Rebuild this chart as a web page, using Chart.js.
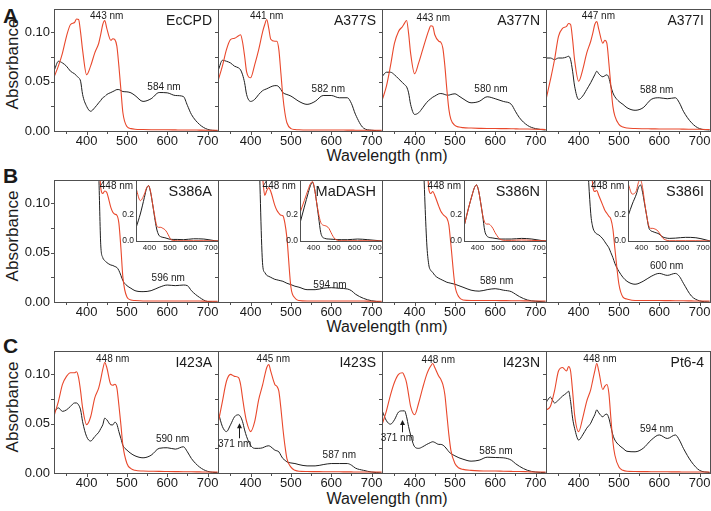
<!DOCTYPE html>
<html>
<head>
<meta charset="utf-8">
<script src="https://cdn.jsdelivr.net/npm/chart.js@4.4.1/dist/chart.umd.min.js"></script>
<style>
  html, body { margin: 0; padding: 0; background: #fff; }
  #wrap { position: relative; width: 711px; height: 511px; overflow: hidden; background: #fff;
          font-family: "Liberation Sans", Arial, Helvetica, sans-serif; color: #1a1a1a; }
  #wrap canvas { position: absolute; }
  .ytitle { position: absolute; width: 120px; height: 20px; line-height: 20px; text-align: center;
            font-size: 17px; transform: rotate(-90deg); white-space: nowrap; }
  .xtitle { position: absolute; width: 200px; height: 20px; line-height: 20px; text-align: center;
            font-size: 16px; white-space: nowrap; }
  .letter { position: absolute; font-weight: bold; font-size: 21px; line-height: 1; }
</style>
</head>
<body>
<div id="wrap">
  <div class="letter" style="left:3px;top:5px;">A</div>
  <div class="letter" style="left:3px;top:165px;">B</div>
  <div class="letter" style="left:3px;top:335px;">C</div>
  <div class="ytitle" style="left:-47px;top:54px;">Absorbance</div>
  <div class="ytitle" style="left:-47px;top:226px;">Absorbance</div>
  <div class="ytitle" style="left:-47px;top:397px;">Absorbance</div>
  <div class="xtitle" style="left:287px;top:146px;">Wavelength (nm)</div>
  <div class="xtitle" style="left:287px;top:317px;">Wavelength (nm)</div>
  <div class="xtitle" style="left:287px;top:489px;">Wavelength (nm)</div>
</div>
<script>
// ---------------- data ----------------
const wl = [320,330,340,350,360,370,375,380,385,390,
            400,410,420,430,435,440,445,450,460,465,
            470,475,480,485,490,500,510,520,540,560,
            580,600,620,640,650,660,680,700,725];
const xTicks = [400, 500, 600, 700];
const yTicks = [0, 0.05, 0.10];
const insetWl = [335,355,375,385,395,405,415,425,435,445,455,465,475,485,495,505,515,535,565,615,665,715,734];
const insetXTicks = [400, 500, 600, 700];
const insetYTicks = [0, 0.2];

// Row A
const ecRed = [.0556,.066,.079,.096,.108,.110,.1135,.113,.100,.082,
  .057,.066,.079,.089,.098,.108,.112,.104,.092,.0935,
  .0926,.086,.066,.042,.0185,.0045,.0024,.0018,.0015,.0013,
  .0012,.0012,.0011,.001,.001,.001,.0009,.0008,.0008];
const ecBlack = [.062,.0707,.069,.0657,.0606,.058,.056,.054,.0505,.037,
  .025,.020,.0236,.0286,.031,.0337,.035,.037,.039,.040,
  .041,.042,.042,.041,.040,.0397,.0387,.036,.030,.0327,
  .039,.0387,.036,.035,.026,.0168,.0067,.0017,.0003];
const a377sRed = [.052,.066,.0825,.0926,.094,.0966,.0976,.090,.076,.060,
  .054,.067,.0825,.101,.108,.113,.104,.093,.091,.091,
  .0825,.059,.035,.0185,.0084,.0024,.0015,.0012,.001,.001,
  .001,.001,.001,.0009,.0009,.0008,.0008,.0007,.0007];
const a377sBlack = [.062,.0717,.0707,.069,.0657,.064,.062,.057,.049,.037,
  .030,.032,.037,.041,.042,.0428,.0438,.0448,.046,.046,
  .0448,.042,.039,.0377,.037,.0354,.0327,.030,.027,.030,
  .036,.036,.0337,.0337,.028,.017,.003,.0008,0];
const a377nRed = [.032,.0455,.066,.089,.101,.106,.1094,.112,.099,.079,
  .058,.069,.0825,.096,.102,.1067,.106,.0976,.091,.090,
  .084,.066,.042,.022,.0118,.0057,.004,.0034,.003,.0027,
  .0025,.0025,.0024,.0023,.0022,.0021,.002,.0018,.0015];
const a377nBlack = [.0556,.0596,.0596,.057,.053,.049,.047,.0448,.0387,.027,
  .0168,.0185,.0236,.029,.031,.0327,.0343,.0354,.0377,.038,
  .0377,.037,.0364,.0364,.037,.0377,.0354,.0327,.0286,.030,
  .0347,.0327,.030,.027,.020,.0135,.0057,.0024,.001];
const a377iRed = [.0337,.052,.072,.096,.104,.106,.109,.108,.0926,.072,
  .0505,.062,.079,.091,.099,.108,.111,.103,.089,.092,
  .089,.069,.0455,.025,.015,.0067,.004,.003,.0025,.0023,
  .0022,.0021,.002,.002,.002,.0019,.0018,.0017,.0015];
const a377iBlack = [.074,.074,.0724,.074,.074,.075,.0758,.0724,.0606,.0455,
  .032,.0354,.042,.049,.053,.057,.0606,.058,.055,.056,
  .057,.054,.0455,.0387,.0347,.030,.027,.0236,.021,.0236,
  .032,.0337,.0327,.0337,.0286,.020,.0084,.0024,.001];

// Row B (values below ~430 nm are off-scale in the main panels)
const s386aRed = [.30,.30,.30,.31,.32,.35,.37,.38,.37,.35,
  .30,.25,.20,.15,.116,.110,.1125,.111,.096,.091,
  .089,.088,.080,.055,.025,.005,.002,.0015,.001,.001,
  .001,.001,.001,.001,.001,.001,.001,.0008,.0008];
const s386aBlack = [.30,.30,.30,.31,.32,.35,.37,.38,.37,.35,
  .30,.25,.20,.13,.058,.045,.042,.040,.0375,.037,
  .036,.035,.032,.027,.0216,.0166,.0139,.0115,.0105,.0115,
  .0149,.0172,.0166,.0172,.0166,.0115,.0047,.0005,0];
const madashRed = [.30,.30,.30,.31,.32,.35,.37,.38,.37,.35,
  .30,.25,.16,.125,.108,.113,.116,.112,.098,.093,
  .090,.088,.0875,.080,.065,.015,.004,.0015,.001,.001,
  .001,.001,.001,.001,.001,.001,.001,.0008,.0008];
const madashBlack = [.30,.30,.30,.31,.32,.35,.37,.38,.37,.35,
  .30,.25,.16,.037,.030,.027,.026,.025,.023,.0225,
  .022,.0215,.021,.020,.019,.0176,.016,.015,.0125,.0125,
  .0139,.0145,.0139,.0132,.0115,.008,.0037,.0013,0];
const s386nRed = [.30,.30,.30,.31,.32,.35,.37,.38,.37,.35,
  .30,.25,.20,.15,.115,.110,.112,.108,.097,.092,
  .089,.087,.085,.078,.058,.017,.005,.002,.0015,.0015,
  .0015,.0015,.0014,.0013,.0013,.0012,.0011,.001,.001];
const s386nBlack = [.30,.30,.30,.31,.32,.35,.37,.38,.37,.35,
  .30,.25,.16,.06,.038,.032,.030,.027,.024,.023,
  .022,.021,.020,.0195,.019,.018,.0165,.015,.012,.011,
  .0125,.0135,.012,.0105,.008,.0055,.002,.0008,0];
const s386iRed = [.30,.30,.30,.31,.32,.35,.37,.38,.37,.35,
  .30,.25,.20,.15,.118,.112,.113,.108,.098,.093,
  .090,.087,.084,.074,.054,.018,.005,.003,.0015,.0015,
  .0015,.0015,.0014,.0013,.0013,.0012,.0011,.001,.001];
const s386iBlack = [.30,.30,.30,.31,.32,.35,.37,.38,.37,.35,
  .30,.25,.16,.09,.076,.071,.069,.068,.064,.061,
  .058,.055,.050,.045,.039,.031,.025,.021,.018,.021,
  .026,.029,.027,.029,.026,.019,.006,.0012,0];

// Row B insets
const s386aInBlack = [.105,.207,.335,.40,.425,.374,.284,.18,.092,.046,.033,.028,.025,.02,.015,.013,.012,.012,.01,.017,.015,.003,0];
const s386aInRed = [.40,.31,.36,.405,.425,.38,.284,.195,.118,.105,.105,.097,.087,.066,.036,.01,.005,.002,.002,.002,.002,.001,.001];
const madashInBlack = [.143,.26,.374,.425,.45,.40,.297,.18,.066,.028,.02,.016,.015,.014,.013,.012,.011,.01,.01,.015,.01,.003,0];
const madashInRed = [.22,.31,.40,.44,.456,.40,.297,.207,.143,.123,.118,.112,.097,.066,.036,.015,.007,.002,.002,.002,.002,.001,.001];
const s386nInBlack = [.117,.246,.36,.41,.43,.387,.297,.195,.079,.04,.028,.025,.023,.02,.018,.015,.015,.015,.015,.02,.015,.003,0];
const s386nInRed = [.117,.246,.36,.41,.43,.387,.297,.2,.143,.13,.13,.118,.097,.066,.041,.02,.01,.005,.005,.008,.005,.002,.001];
const s386iInBlack = [.195,.284,.36,.41,.43,.374,.284,.195,.105,.079,.072,.066,.061,.054,.041,.03,.025,.02,.022,.028,.025,.008,0];
const s386iInRed = [.438,.36,.387,.45,.47,.41,.297,.195,.118,.097,.097,.092,.084,.066,.041,.02,.01,.002,.002,.002,.002,.001,.001];

// Row C
const i423aRed = [.059,.0727,.0898,.098,.1017,.1017,.1027,.0966,.083,.066,
  .049,.057,.076,.0863,.095,.105,.112,.107,.0898,.089,
  .090,.0863,.069,.049,.028,.0096,.0044,.0027,.002,.0018,
  .0016,.0015,.0014,.0013,.0012,.0012,.0011,.001,.001];
const i423aBlack = [.0625,.066,.0625,.064,.0676,.071,.071,.069,.064,.052,
  .0369,.0324,.0369,.0413,.045,.0488,.0556,.054,.0488,.0488,
  .0515,.0495,.042,.035,.028,.0232,.0198,.0174,.0154,.018,
  .025,.0256,.0242,.0266,.0215,.0147,.0061,.0017,.0003];
const i423sRed = [.052,.0727,.093,.100,.098,.0966,.0898,.076,.0625,.052,
  .042,.052,.0744,.0898,.099,.107,.110,.103,.0898,.088,
  .083,.066,.0454,.028,.0147,.006,.0027,.0017,.0015,.0014,
  .0013,.0012,.0012,.0011,.0011,.001,.001,.001,.001];
const i423sBlack = [.061,.047,.042,.0488,.057,.059,.057,.052,.0437,.0369,
  .028,.025,.025,.0256,.0265,.0273,.0276,.0266,.0232,.0225,
  .0215,.018,.0147,.013,.0113,.0102,.0096,.0085,.0072,.0072,
  .0085,.0096,.0096,.0096,.008,.005,.0027,.001,0];
const i423nRed = [.050,.063,.079,.092,.100,.1017,.098,.0915,.0795,.0676,
  .059,.071,.0863,.100,.105,.1085,.111,.107,.098,.095,
  .0898,.0795,.059,.0386,.023,.0096,.005,.0037,.0027,.0022,
  .002,.002,.0018,.0016,.0015,.0015,.0013,.001,.001];
const i423nBlack = [.0625,.053,.0495,.054,.0618,.063,.063,.057,.047,.0386,
  .0266,.025,.0266,.029,.030,.031,.0317,.031,.029,.029,
  .0283,.0266,.0242,.0215,.0198,.0174,.0154,.014,.012,.013,
  .016,.0157,.0154,.013,.0096,.0068,.0027,.001,.0003];
const pt64Red = [.064,.0676,.083,.1034,.107,.1034,.108,.1034,.083,.059,
  .042,.0556,.0727,.0846,.094,.1034,.111,.1034,.0846,.088,
  .0898,.081,.0556,.0317,.018,.006,.0027,.0017,.0015,.0014,
  .0013,.0012,.0012,.0011,.0011,.001,.001,.001,.001];
const pt64Black = [.072,.077,.071,.074,.078,.081,.083,.0727,.0556,.0454,
  .0334,.0386,.0454,.0505,.055,.059,.064,.061,.057,.059,
  .0597,.0556,.047,.0386,.0334,.0283,.025,.022,.0215,.025,
  .0334,.0386,.035,.0386,.0334,.025,.0113,.0027,.0005];

// ---------------- layout / style ----------------
const FONT = '"Liberation Sans", Arial, Helvetica, sans-serif';
const RED = 'rgb(233,72,44)', BLACK = '#1e1e1e', FRAME = '#505050', TXT = '#1a1a1a';
const X_MIN = 319, X_MAX = 726, Y_MAX = 0.1237;
const IN_XMIN = 334, IN_XMAX = 734, IN_YMAX = 0.468;
const ROW_TOP = [9, 180, 351];
const PH = 122, PL = 54, PW = 164, PADT = 14, IN_PADT = 8, IN_PADR = 12;

Chart.defaults.font.family = FONT;
Chart.defaults.color = TXT;

const rows = [
  { panels: [
    { name: 'EcCPD', red: ecRed, black: ecBlack, notes: [['443 nm', 449.8, 0.1159], ['584 nm', 592, 0.0443]] },
    { name: 'A377S', red: a377sRed, black: a377sBlack, notes: [['441 nm', 439.8, 0.1159], ['582 nm', 592.7, 0.0423]] },
    { name: 'A377N', red: a377nRed, black: a377nBlack, notes: [['443 nm', 446.3, 0.1143], ['580 nm', 589.5, 0.0423]] },
    { name: 'A377I', red: a377iRed, black: a377iBlack, notes: [['447 nm', 448.8, 0.1159], ['588 nm', 593.7, 0.0409]] }
  ]},
  { panels: [
    { name: 'S386A', red: s386aRed, black: s386aBlack, notes: [['448 nm', 474, 0.1169], ['596 nm', 602.6, 0.024]],
      inset: { red: s386aInRed, black: s386aInBlack } },
    { name: 'MaDASH', red: madashRed, black: madashBlack, notes: [['448 nm', 471, 0.1169], ['594 nm', 597, 0.0172]],
      inset: { red: madashInRed, black: madashInBlack } },
    { name: 'S386N', red: s386nRed, black: s386nBlack, notes: [['448 nm', 473.6, 0.1169], ['589 nm', 603.6, 0.0213]],
      inset: { red: s386nInRed, black: s386nInBlack } },
    { name: 'S386I', red: s386iRed, black: s386iBlack, notes: [['448 nm', 472, 0.1169], ['600 nm', 618.5, 0.0358]],
      inset: { red: s386iInRed, black: s386iInBlack } }
  ]},
  { panels: [
    { name: 'I423A', red: i423aRed, black: i423aBlack, notes: [['448 nm', 464.7, 0.1156], ['590 nm', 613.5, 0.0345]] },
    { name: 'I423S', red: i423sRed, black: i423sBlack, notes: [['445 nm', 456.2, 0.1156], ['587 nm', 620, 0.0183], ['371 nm', 360.4, 0.029]],
      arrows: [[372, 0.0352, 0.0504]] },
    { name: 'I423N', red: i423nRed, black: i423nBlack, notes: [['448 nm', 458.7, 0.1146], ['585 nm', 601.9, 0.0223], ['371 nm', 357, 0.0352]],
      arrows: [[369.4, 0.0413, 0.0537]] },
    { name: 'Pt6-4', red: pt64Red, black: pt64Black, notes: [['448 nm', 453, 0.1156], ['594 nm', 593.7, 0.0446]] }
  ]}
];

const framePlugin = {
  id: 'frame',
  beforeDatasetsDraw(chart, args, o) {
    if (!o.fill) return;
    const { ctx, chartArea: a } = chart;
    ctx.save();
    ctx.fillStyle = o.fill;
    ctx.fillRect(a.left, a.top, a.right - a.left, a.bottom - a.top);
    ctx.restore();
  },
  afterDatasetsDraw(chart, args, o) {
    const { ctx, chartArea: a } = chart;
    const xs = chart.scales.x, ys = chart.scales.y;
    ctx.save();
    ctx.strokeStyle = FRAME;
    ctx.lineWidth = 1;
    ctx.strokeRect(a.left + 0.5, a.top + 0.5, a.right - a.left, a.bottom - a.top);
    ctx.beginPath();
    (o.xMarks || []).forEach(v => {
      const px = Math.round(xs.getPixelForValue(v)) + 0.5;
      ctx.moveTo(px, a.bottom + 1); ctx.lineTo(px, a.bottom + 1 + (v % 100 === 0 ? 3 : 2));
    });
    (o.yMarks || []).forEach(v => {
      const py = Math.round(ys.getPixelForValue(v)) + 0.5;
      ctx.moveTo(a.left, py); ctx.lineTo(a.left - 3, py);
    });
    ctx.stroke();
    ctx.fillStyle = TXT;
    ctx.textAlign = 'center';
    ctx.textBaseline = 'middle';
    if (o.xLabels) {
      ctx.font = o.xLabelSize + 'px ' + FONT;
      o.xLabels.forEach(v => ctx.fillText(String(v), xs.getPixelForValue(v), a.bottom + 6.5));
    }
    ctx.font = '10px ' + FONT;
    (o.notes || []).forEach(n => ctx.fillText(n[0], xs.getPixelForValue(n[1]), ys.getPixelForValue(n[2])));
    (o.arrows || []).forEach(([xv, y0, y1]) => {
      const px = Math.round(xs.getPixelForValue(xv)) + 0.5;
      const p0 = ys.getPixelForValue(y0), p1 = ys.getPixelForValue(y1);
      ctx.strokeStyle = TXT; ctx.lineWidth = 1;
      ctx.beginPath(); ctx.moveTo(px, p0); ctx.lineTo(px, p1 + 3); ctx.stroke();
      ctx.beginPath(); ctx.moveTo(px, p1); ctx.lineTo(px - 2.5, p1 + 5); ctx.lineTo(px + 2.5, p1 + 5); ctx.closePath(); ctx.fill();
    });
    if (o.name) {
      ctx.font = (o.nameSize || 14) + 'px ' + FONT;
      ctx.textAlign = 'right';
      ctx.textBaseline = 'alphabetic';
      ctx.fillText(o.name, a.right - 6, a.top + 16);
    }
    ctx.restore();
  }
};

const wrap = document.getElementById('wrap');
function makeCanvas(left, top, w, h) {
  const c = document.createElement('canvas');
  c.width = w; c.height = h;
  c.style.left = left + 'px'; c.style.top = top + 'px';
  c.style.width = w + 'px'; c.style.height = h + 'px';
  wrap.appendChild(c);
  return c;
}
function lineDS(xs, ys, color, w) {
  return { data: xs.map((x, i) => ({ x: x, y: ys[i] })), borderColor: color, borderWidth: w,
           pointRadius: 0, cubicInterpolationMode: 'monotone', fill: false };
}

function mainPanel(r, k, p) {
  const first = k === 0;
  const padL = first ? 0 : 8, yW = first ? PL : 0;
  const left = PL + k * PW - padL - yW;
  const top = ROW_TOP[r] - PADT;
  const c = makeCanvas(left, top, padL + yW + PW + 8, PADT + PH + 24);
  new Chart(c, {
    type: 'line',
    data: { datasets: [lineDS(wl, p.red, RED, 1.1), lineDS(wl, p.black, BLACK, 1)] },
    options: {
      responsive: false, animation: false, events: [],
      layout: { padding: { left: padL, right: 8, top: PADT, bottom: 0 } },
      plugins: {
        legend: { display: false }, tooltip: { enabled: false },
        frame: { name: p.inset ? null : p.name, notes: p.notes, arrows: p.arrows,
                 xMarks: [350, 400, 450, 500, 550, 600, 650, 700], yMarks: [0.025, 0.05, 0.075, 0.10] }
      },
      scales: {
        x: { type: 'linear', min: X_MIN, max: X_MAX,
             afterBuildTicks: s => { s.ticks = xTicks.map(v => ({ value: v })); },
             afterFit: s => { s.height = 24; },
             grid: { display: false, drawTicks: false }, border: { display: false },
             ticks: { padding: 3, font: { size: 13 }, color: TXT, maxRotation: 0, autoSkip: false,
                      callback: v => String(v) } },
        y: { type: 'linear', display: first, min: 0, max: Y_MAX,
             afterBuildTicks: s => { s.ticks = yTicks.map(v => ({ value: v })); },
             afterFit: s => { s.width = yW; },
             grid: { display: false, drawTicks: false }, border: { display: false },
             ticks: { padding: 4, font: { size: 13 }, color: TXT, autoSkip: false,
                      callback: v => Number(v).toFixed(2) } }
      }
    },
    plugins: [framePlugin]
  });
}

function insetPanel(r, k, p) {
  const inL = PL + k * PW + 82, inW = PW - 82, inH = 61, yW = 22;
  const c = makeCanvas(inL - yW, ROW_TOP[r] - IN_PADT, yW + inW + IN_PADR, IN_PADT + inH + 12);
  new Chart(c, {
    type: 'line',
    data: { datasets: [lineDS(insetWl, p.inset.red, RED, 1), lineDS(insetWl, p.inset.black, BLACK, 1)] },
    options: {
      responsive: false, animation: false, events: [],
      layout: { padding: { left: 0, right: IN_PADR, top: IN_PADT, bottom: 0 } },
      plugins: {
        legend: { display: false }, tooltip: { enabled: false },
        frame: { fill: '#fff', name: p.name, nameSize: 14.5, xLabels: insetXTicks, xLabelSize: 8 }
      },
      scales: {
        x: { type: 'linear', min: IN_XMIN, max: IN_XMAX,
             afterBuildTicks: s => { s.ticks = insetXTicks.map(v => ({ value: v })); },
             afterFit: s => { s.height = 12; },
             grid: { display: false, drawTicks: false }, border: { display: false },
             ticks: { display: false } },
        y: { type: 'linear', min: 0, max: IN_YMAX,
             afterBuildTicks: s => { s.ticks = insetYTicks.map(v => ({ value: v })); },
             afterFit: s => { s.width = yW; },
             grid: { display: false, drawTicks: false }, border: { display: false },
             ticks: { padding: 2, font: { size: 8.5 }, color: TXT, autoSkip: false,
                      callback: v => Number(v).toFixed(1) } }
      }
    },
    plugins: [framePlugin]
  });
}

rows.forEach((row, r) => row.panels.forEach((p, k) => mainPanel(r, k, p)));
rows.forEach((row, r) => row.panels.forEach((p, k) => { if (p.inset) insetPanel(r, k, p); }));
</script>
</body>
</html>
